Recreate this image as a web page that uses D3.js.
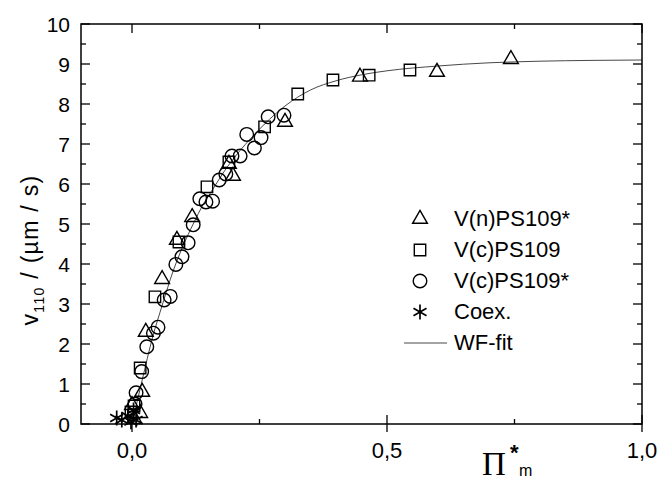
<!DOCTYPE html>
<html>
<head>
<meta charset="utf-8">
<script src="https://cdn.jsdelivr.net/npm/d3@7"></script>
<style>
  body { margin: 0; background: #fff; }
  svg { display: block; }
  text { font-family: "Liberation Sans", Arial, sans-serif; fill: #000; }
</style>
</head>
<body>
<svg id="chart" width="658" height="481"></svg>
<script>
var width = 658;
var height = 481;

// data
var triX = [0.743, 0.598, 0.447, 0.300, 0.198, 0.190, 0.118, 0.088, 0.059, 0.027, 0.020, 0.016, 0.000, 0.005];
var triY = [9.12, 8.80, 8.68, 7.55, 6.20, 6.50, 5.17, 4.60, 3.62, 2.30, 0.80, 0.27, 0.47, 0.12];

var sqX = [0.545, 0.465, 0.394, 0.325, 0.260, 0.190, 0.147, 0.092, 0.045, 0.016, 0.004, -0.002];
var sqY = [8.85, 8.72, 8.60, 8.25, 7.43, 6.55, 5.93, 4.55, 3.18, 1.40, 0.45, 0.30];

var circX = [0.298, 0.267, 0.253, 0.240, 0.225, 0.212, 0.196, 0.184, 0.171, 0.158, 0.145, 0.133,
             0.120, 0.110, 0.098, 0.086, 0.075, 0.063, 0.051, 0.042, 0.029, 0.019, 0.008, 0.006];
var circY = [7.72, 7.68, 7.16, 6.90, 7.24, 6.70, 6.70, 6.25, 6.10, 5.57, 5.55, 5.63,
             4.98, 4.53, 4.18, 3.99, 3.19, 3.10, 2.42, 2.27, 1.93, 1.31, 0.78, 0.50];

var coexX = [-0.030, -0.020, -0.008, -0.002, 0.003, 0.008];
var coexY = [0.15, 0.10, 0.20, 0.06, 0.35, 0.10];

// WF-fit line
var fitX = [0, 0.02, 0.04, 0.06, 0.08, 0.10, 0.12, 0.14, 0.16, 0.18, 0.20, 0.23, 0.26, 0.30, 0.35,
            0.40, 0.45, 0.50, 0.60, 0.70, 0.80, 0.90, 1.00];
var fitY = [0, 1.10, 2.15, 3.00, 3.80, 4.45, 5.00, 5.50, 5.90, 6.30, 6.65, 7.10, 7.50, 7.95, 8.35,
            8.58, 8.73, 8.83, 8.95, 9.03, 9.07, 9.09, 9.10];

var xMajor = [0, 0.5, 1.0];
var xMinor = [0.25, 0.75];
var xTickLabels = ["0,0", "0,5", "1,0"];
var yMajor = [0, 1, 2, 3, 4, 5, 6, 7, 8, 9, 10];
var yMinor = [0.5, 1.5, 2.5, 3.5, 4.5, 5.5, 6.5, 7.5, 8.5, 9.5];

var legendNames = ["V(n)PS109*", "V(c)PS109", "V(c)PS109*", "Coex.", "WF-fit"];

// plot box (note: "top" is taken by window.top, so prefix these)
var pLeft = 81, pRight = 642, pTop = 24, pBottom = 424;

var x = d3.scaleLinear().domain([-0.1, 1.0]).range([pLeft, pRight]);
var y = d3.scaleLinear().domain([0, 10]).range([pBottom, pTop]);

var svg = d3.select("#chart");

// fit line
var line = d3.line()
    .x(function(d) { return x(d[0]); })
    .y(function(d) { return y(d[1]); })
    .curve(d3.curveMonotoneX);

svg.append("path")
    .datum(d3.zip(fitX, fitY))
    .attr("d", line)
    .attr("fill", "none")
    .attr("stroke", "#333")
    .attr("stroke-width", 0.9);

// markers
function drawSymbol(xs, ys, type, size, sw) {
    var sym = d3.symbol().type(type).size(size);
    svg.append("g")
        .selectAll("path")
        .data(d3.zip(xs, ys))
        .enter()
        .append("path")
        .attr("transform", function(d) { return "translate(" + x(d[0]) + "," + y(d[1]) + ")"; })
        .attr("d", sym)
        .attr("fill", "none")
        .attr("stroke", "#000")
        .attr("stroke-width", sw);
}

drawSymbol(coexX, coexY, d3.symbolAsterisk, 160, 1.7);
drawSymbol(sqX, sqY, d3.symbolSquare, 130, 1.4);
drawSymbol(triX, triY, d3.symbolTriangle, 95, 1.4);
drawSymbol(circX, circY, d3.symbolCircle, 145, 1.4);

// frame
svg.append("rect")
    .attr("x", pLeft).attr("y", pTop)
    .attr("width", pRight - pLeft).attr("height", pBottom - pTop)
    .attr("fill", "none")
    .attr("stroke", "#000")
    .attr("stroke-width", 1.5);

// ticks (drawn by hand, all pointing inward; bottom majors cross the axis)
var ticks = svg.append("g").attr("stroke", "#000").attr("stroke-width", 1.3);

xMajor.forEach(function(v) {
    ticks.append("line").attr("x1", x(v)).attr("x2", x(v)).attr("y1", pBottom + 8).attr("y2", pBottom - 9);
    ticks.append("line").attr("x1", x(v)).attr("x2", x(v)).attr("y1", pTop).attr("y2", pTop + 9);
});
xMinor.forEach(function(v) {
    ticks.append("line").attr("x1", x(v)).attr("x2", x(v)).attr("y1", pBottom).attr("y2", pBottom - 5);
    ticks.append("line").attr("x1", x(v)).attr("x2", x(v)).attr("y1", pTop).attr("y2", pTop + 5);
});
yMajor.forEach(function(v) {
    ticks.append("line").attr("x1", pLeft).attr("x2", pLeft + 9).attr("y1", y(v)).attr("y2", y(v));
    ticks.append("line").attr("x1", pRight).attr("x2", pRight - 9).attr("y1", y(v)).attr("y2", y(v));
});
yMinor.forEach(function(v) {
    ticks.append("line").attr("x1", pLeft).attr("x2", pLeft + 5).attr("y1", y(v)).attr("y2", y(v));
    ticks.append("line").attr("x1", pRight).attr("x2", pRight - 5).attr("y1", y(v)).attr("y2", y(v));
});

// tick labels
svg.append("g").selectAll("text")
    .data(yMajor)
    .enter()
    .append("text")
    .attr("x", pLeft - 11)
    .attr("y", function(d) { return y(d) + 7.5; })
    .attr("text-anchor", "end")
    .style("font-size", "21px")
    .text(function(d) { return d; });

svg.append("g").selectAll("text")
    .data(xMajor)
    .enter()
    .append("text")
    .attr("x", function(d) { return x(d); })
    .attr("y", 458)
    .attr("text-anchor", "middle")
    .style("font-size", "22px")
    .text(function(d, i) { return xTickLabels[i]; });

// y axis title
var yTitle = svg.append("text")
    .attr("transform", "translate(38,250) rotate(-90)")
    .attr("text-anchor", "middle")
    .style("font-size", "23px")
    .style("letter-spacing", "1.3px");
yTitle.append("tspan").text("v");
yTitle.append("tspan").attr("dy", 6).style("font-size", "14px").text("110");
yTitle.append("tspan").attr("dy", -6).text(" / (µm / s)");

// x axis title, three pieces
svg.append("text")
    .attr("x", 482).attr("y", 475)
    .style("font-family", "'Liberation Serif', serif")
    .style("font-size", "33px")
    .text("Π");
svg.append("text")
    .attr("x", 510).attr("y", 460)
    .style("font-size", "22px")
    .style("font-weight", "bold")
    .text("*");
svg.append("text")
    .attr("x", 519).attr("y", 476)
    .style("font-size", "16px")
    .text("m");

// legend
var legY = [226, 257, 288, 319, 350];
var legTypes = [d3.symbolTriangle, d3.symbolSquare, d3.symbolCircle, d3.symbolAsterisk];
var legSizes = [95, 130, 145, 160];
var legWidths = [1.4, 1.4, 1.4, 1.7];
var leg = svg.append("g");

legTypes.forEach(function(t, i) {
    leg.append("path")
        .attr("transform", "translate(420," + (legY[i] - 7) + ")")
        .attr("d", d3.symbol().type(t).size(legSizes[i]))
        .attr("fill", "none")
        .attr("stroke", "#000")
        .attr("stroke-width", legWidths[i]);
});
leg.append("line")
    .attr("x1", 404).attr("x2", 447)
    .attr("y1", legY[4] - 7).attr("y2", legY[4] - 7)
    .attr("stroke", "#333").attr("stroke-width", 0.9);

leg.selectAll("text")
    .data(legendNames)
    .enter()
    .append("text")
    .attr("x", 454)
    .attr("y", function(d, i) { return legY[i]; })
    .style("font-size", "22px")
    .text(function(d) { return d; });
</script>
</body>
</html>
